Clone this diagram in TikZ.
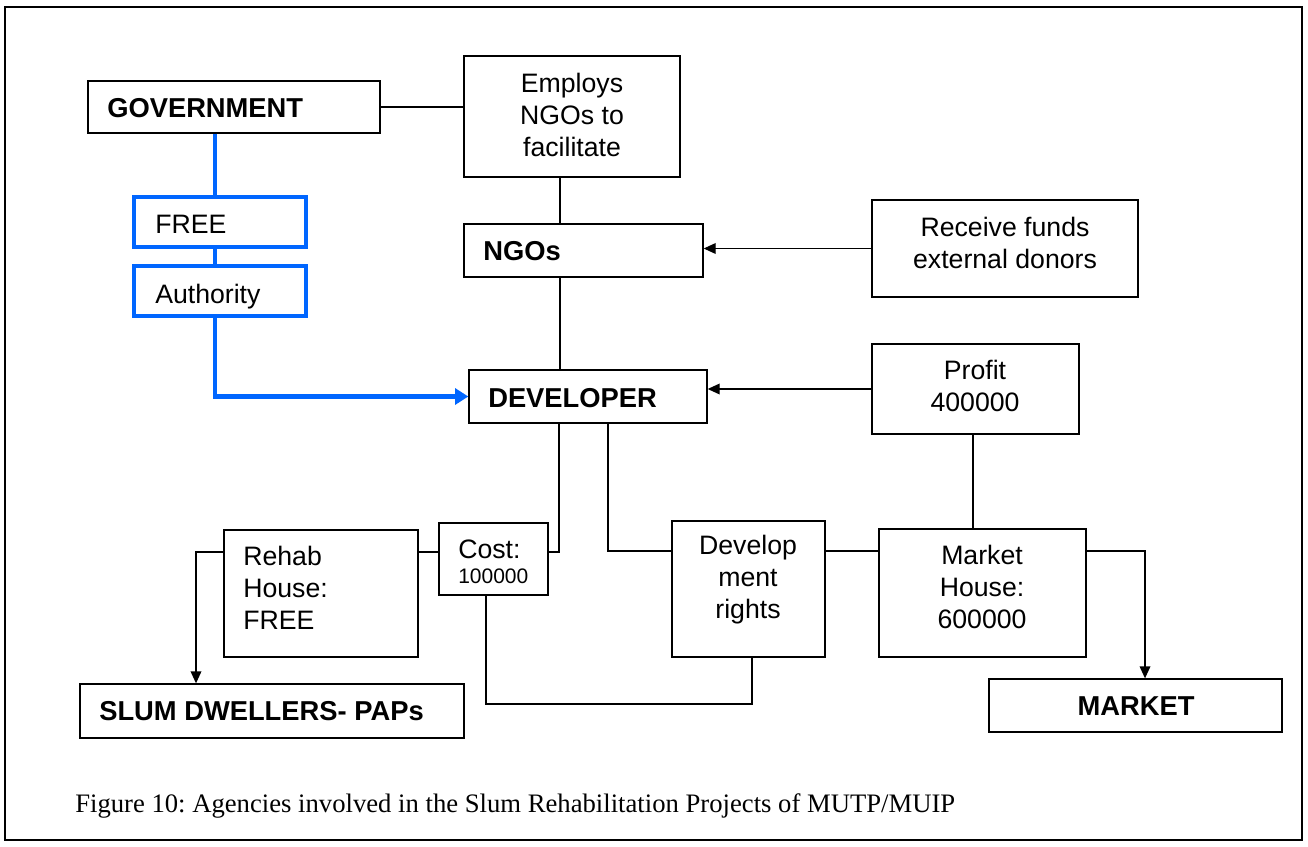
\documentclass[tikz,border=0pt]{standalone}
\usepackage{fontspec}
\setmainfont{Liberation Sans}
\newfontfamily\capfont{Liberation Serif}
\usetikzlibrary{arrows.meta,fit}
\definecolor{bblue}{RGB}{0,102,255}
\newcommand\bx[6][box]{\path (#3,#4) coordinate (#2-a) (#5,#6) coordinate (#2-b); \node[#1, fit=(#2-a)(#2-b)] (#2) {};}
\frenchspacing
\begin{document}
\begin{tikzpicture}[x=0.75pt,y=-0.75pt,
  box/.style={draw, line width=1pt, inner sep=0pt},
  bbox/.style={draw=bblue, line width=3.5pt, inner sep=0pt},
  conn/.style={draw, line width=1pt},
  arr/.style={conn, -{Triangle[length=9pt,width=8pt]}},
  barr/.style={draw=bblue, line width=3.5pt},
  txt/.style={font=\fontsize{20}{24}\selectfont, inner sep=0pt},
  btxt/.style={font=\fontsize{20.5}{24}\selectfont\bfseries, inner sep=0pt}]
\useasboundingbox (0,0) rectangle (1308,846);
\draw[line width=1pt] (5,7) rectangle (1302,840);
% boxes
\bx{gov}{88}{81}{380}{133}
\bx{emp}{464}{56}{680}{177}
\bx[bbox]{free}{134}{197}{306}{247}
\bx[bbox]{auth}{134}{266}{306}{316}
\bx{ngos}{464}{224}{703}{277}
\bx{recv}{872}{200}{1138}{297}
\bx{dev}{469}{370}{707}{423}
\bx{prof}{872}{344}{1079}{434}
\bx{rehab}{224}{530}{418}{657}
\bx{cost}{439}{523}{548}{595}
\bx{devr}{672}{521}{825}{657}
\bx{mkt}{879}{529}{1086}{657}
\bx{slum}{80}{684}{464}{738}
\bx{market}{989}{679}{1282}{732}
% texts
\node[btxt, anchor=base west] (tgov) at (107,117) {GOVERNMENT};
\node[txt, align=center] (temp) at (572,115) {Employs\\NGOs to\\facilitate};
\node[txt, anchor=base west] (tfree) at (155,233) {FREE};
\node[txt, anchor=base west] (tauth) at (155,303) {Authority};
\node[btxt, anchor=base west] (tngos) at (483,260) {NGOs};
\node[txt, align=center] (trecv) at (1005,243) {Receive funds\\external donors};
\node[btxt, anchor=base west] (tdev) at (488,407) {DEVELOPER};
\node[txt, align=center] (tprof) at (975,386) {Profit\\400000};
\node[txt, align=left, anchor=west] (trehab) at (243,588) {Rehab\\House:\\FREE};
\node[txt, anchor=base west] (tcost) at (458,558) {Cost:};
\node[txt, anchor=base west, font=\fontsize{15.75}{18}\selectfont] (tcostv) at (458,583) {100000};
\node[txt, align=center] (tdevr) at (748,580) {Develop\\ment\\rights};
\node[txt, align=center] (tmkt) at (982,587) {Market\\House:\\600000};
\node[btxt, anchor=base west] (tslum) at (99,720) {SLUM DWELLERS- PAPs};
\node[btxt, anchor=base] (tmarket) at (1136,715) {MARKET};
\node[inner sep=0pt, anchor=base west, font=\capfont\fontsize{20}{24}\selectfont] (cap) at (75,812) {Figure 10: Agencies involved in the Slum Rehabilitation Projects of MUTP/MUIP};
% connectors
\draw[conn] (gov.east) -- (gov.east -| emp.west);
\draw[conn] (emp.south -| 560,0) -- (ngos.north -| 560,0);
\draw[conn] (ngos.south -| 560,0) -- (dev.north -| 560,0);
\draw[arr] (recv.west) -- (recv.west -| ngos.east);
\draw[arr] (prof.west) -- (prof.west -| dev.east);
\draw[conn] (prof.south -| 973,0) -- (mkt.north -| 973,0);
\draw[barr] (gov.south -| 215,0) -- (free.north -| 215,0);
\draw[barr] (free.south -| 215,0) -- (auth.north -| 215,0);
\draw[barr, -{Triangle[length=10pt,width=12pt]}] (auth.south -| 215,0) |- (dev.west);
\draw[conn] (dev.south -| 559,0) |- (cost.east |- 0,552);
\draw[conn] (dev.south -| 608,0) |- (devr.west |- 0,551);
\draw[conn] (rehab.east |- 0,552) -- (cost.west |- 0,552);
\draw[arr] (rehab.west |- 0,552) -| (slum.north -| 196,0);
\coordinate (cb) at (752,704);
\draw[conn] (cost.south -| 486,0) |- (cb) -- (devr.south -| cb);
\draw[conn] (devr.east |- 0,551) -- (mkt.west |- 0,551);
\draw[arr] (mkt.east |- 0,551) -| (market.north -| 1145,0);
\end{tikzpicture}
\end{document}
